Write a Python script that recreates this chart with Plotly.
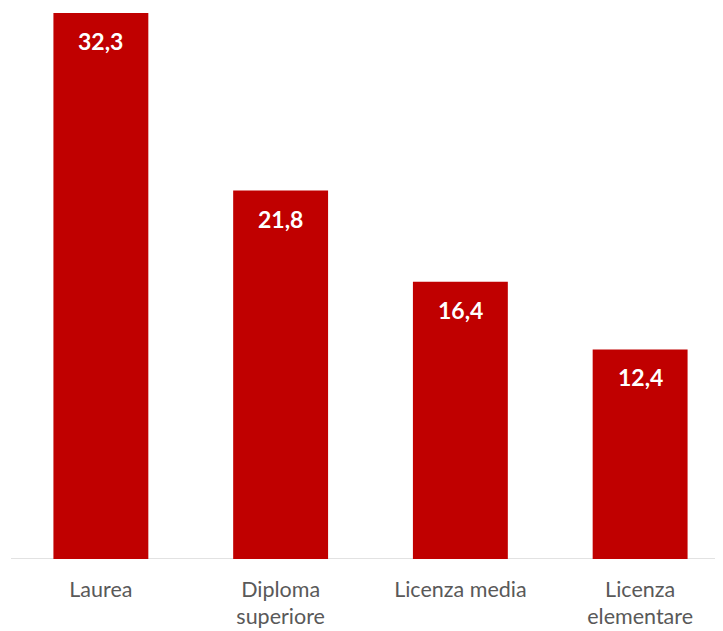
import plotly.graph_objects as go

categories = ["Laurea", "Diploma<br>superiore", "Licenza media", "Licenza<br>elementare"]
values = [32.3, 21.8, 16.4, 12.4]
labels = ["32,3", "21,8", "16,4", "12,4"]

xpos = list(range(len(categories)))

fig = go.Figure()
fig.add_trace(go.Bar(
    x=xpos, y=values, width=0.528,
    marker=dict(color="#C00000", line=dict(width=0)),
    hoverinfo="skip",
))
for x, v, t in zip(xpos, values, labels):
    fig.add_annotation(x=x, y=v, text="<b>" + t + "</b>", showarrow=False,
                       yanchor="middle", yshift=-28,
                       font=dict(family="Lato, Open Sans, sans-serif", size=23, color="white"))

fig.update_layout(
    width=723, height=631,
    margin=dict(l=2.5, r=1, t=2, b=80),
    paper_bgcolor="white", plot_bgcolor="white",
    showlegend=False,
    xaxis=dict(range=[-0.5, 3.5], tickvals=xpos, ticktext=categories,
               showgrid=False, zeroline=False, showline=False, ticks="",
               ticklabelstandoff=15,
               tickfont=dict(family="Lato, Open Sans, sans-serif", size=21.5, color="#595959")),
    yaxis=dict(range=[0, 32.48], visible=False, showgrid=False, zeroline=False),
    shapes=[dict(type="line", xref="paper", yref="y", x0=0, x1=1, y0=0, y1=0,
                 line=dict(color="#D9D9D9", width=1.5), layer="below")],
)
fig.write_html("out.html")
